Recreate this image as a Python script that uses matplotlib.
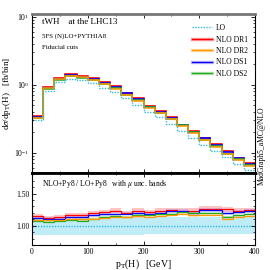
import numpy as np
import matplotlib
matplotlib.use('Agg')
import matplotlib.pyplot as plt
from matplotlib.ticker import MultipleLocator, LogLocator, NullFormatter

plt.rcParams['font.family'] = ['Liberation Serif', 'DejaVu Serif']
plt.rcParams['mathtext.fontset'] = 'stix'

# --- Data, 20 GeV bins
edges = np.arange(0, 420, 20)
lo = [0.30, 0.82, 1.10, 1.22, 1.17, 1.05, 0.91, 0.77, 0.63, 0.51,
      0.40, 0.33, 0.265, 0.21, 0.166, 0.13, 0.105, 0.085, 0.068, 0.056]
# ratios NLO / LO
r_dr1 = [1.15, 1.12, 1.13, 1.17, 1.16, 1.20, 1.215, 1.235, 1.20, 1.235,
         1.21, 1.235, 1.245, 1.235, 1.235, 1.265, 1.265, 1.255, 1.235, 1.245]
r_dr2 = [1.09, 1.085, 1.09, 1.105, 1.10, 1.11, 1.12, 1.135, 1.13, 1.145,
         1.14, 1.155, 1.17, 1.18, 1.16, 1.17, 1.17, 1.105, 1.14, 1.15]
r_ds1 = [1.12, 1.105, 1.11, 1.135, 1.13, 1.16, 1.18, 1.19, 1.19, 1.20,
         1.19, 1.20, 1.225, 1.225, 1.20, 1.25, 1.25, 1.20, 1.21, 1.225]
r_ds2 = [1.08, 1.06, 1.07, 1.09, 1.08, 1.105, 1.13, 1.145, 1.14, 1.16,
         1.16, 1.18, 1.19, 1.215, 1.20, 1.20, 1.20, 1.13, 1.17, 1.18]
# LO scale band (relative)
lo_dn = [0.85, 0.85, 0.85, 0.855, 0.855, 0.855, 0.86, 0.86, 0.86, 0.86,
         0.865, 0.865, 0.865, 0.865, 0.865, 0.87, 0.87, 0.87, 0.87, 0.87]
lo_up = [1.12, 1.12, 1.12, 1.125, 1.125, 1.125, 1.13, 1.13, 1.13, 1.13,
         1.135, 1.135, 1.135, 1.14, 1.14, 1.14, 1.14, 1.145, 1.145, 1.145]
# NLO scale unc. (relative half width)
unc = {'NLO DR1': 0.035, 'NLO DR2': 0.02, 'NLO DS1': 0.03, 'NLO DS2': 0.015}

lo = np.array(lo)
ratios = {'NLO DR1': np.array(r_dr1), 'NLO DR2': np.array(r_dr2),
          'NLO DS1': np.array(r_ds1), 'NLO DS2': np.array(r_ds2)}
colors = {'NLO DR1': '#ff0000', 'NLO DR2': '#ff9900',
          'NLO DS1': '#0000ff', 'NLO DS2': '#22aa22'}
bands = {'NLO DR1': '#ff8080', 'NLO DR2': '#ffcc80',
         'NLO DS1': '#b0a0ff', 'NLO DS2': '#a0dda0'}
lo_col = '#33bbdd'
lo_band = '#b8eaf7'

fig = plt.figure(figsize=(2.7, 2.7), dpi=100)
ax = fig.add_axes([0.1185, 0.359, 0.826, 0.589])
axr = fig.add_axes([0.1185, 0.0926, 0.826, 0.2664], sharex=ax)

def sfill(a, lo_, hi_, color, alpha):
    a.fill_between(edges, np.append(lo_, lo_[-1]), np.append(hi_, hi_[-1]),
                   step='post', color=color, alpha=alpha, lw=0)

# --- main panel
order = ['NLO DR1', 'NLO DS1', 'NLO DS2', 'NLO DR2']
for k in order:
    y = lo*ratios[k]
    sfill(ax, y*(1-unc[k]), y*(1+unc[k]), bands[k], 0.6)
for k in order:
    y = lo*ratios[k]
    ax.stairs(y, edges, baseline=None, color=colors[k], lw=1.1)
ax.stairs(lo, edges, baseline=None, color=lo_col, lw=1.0, ls=(0, (1, 1)))

ax.set_yscale('log')
ax.set_xlim(0, 400)
ax.set_ylim(0.05, 11)
ax.set_ylabel(r'd$\sigma$/dp$_\mathrm{T}$(H)   [fb/bin]', fontsize=6.5, labelpad=1)
ax.yaxis.set_major_locator(LogLocator(base=10, numticks=10))
ax.yaxis.set_minor_locator(LogLocator(base=10, subs=np.arange(2, 10), numticks=10))
ax.yaxis.set_minor_formatter(NullFormatter())
plt.setp(ax.get_xticklabels(), visible=False)
ax.spines['top'].set_linewidth(2.0)
ax.spines['top'].set_color('#777777')
ax.spines['bottom'].set_linewidth(2.0)

ax.text(0.045, 0.95, 'tWH    at the LHC13', transform=ax.transAxes, fontsize=6.5, va='center')
ax.text(0.045, 0.862, '5FS (N)LO+PYTHIA8', transform=ax.transAxes, fontsize=5, va='center')
ax.text(0.045, 0.79, 'Fiducial cuts', transform=ax.transAxes, fontsize=5, va='center')

# legend
h_lo, = ax.plot([], [], color=lo_col, lw=1.0, ls=(0, (1, 1)))
hs = [h_lo]
for k in ['NLO DR1', 'NLO DR2', 'NLO DS1', 'NLO DS2']:
    hb, = ax.plot([], [], color=bands[k], lw=2.4, alpha=0.8)
    hl, = ax.plot([], [], color=colors[k], lw=0.9)
    hs.append((hb, hl))
ax.legend(hs, ['LO', 'NLO DR1', 'NLO DR2', 'NLO DS1', 'NLO DS2'],
          loc='upper right', bbox_to_anchor=(1.0, 0.98), frameon=False,
          fontsize=5.5, handlelength=2.6, handletextpad=0.6, labelspacing=0.45)

# --- ratio panel
sfill(axr, np.array(lo_dn), np.array(lo_up), lo_band, 0.9)
for k in order:
    r = ratios[k]
    sfill(axr, r-unc[k], r+unc[k], bands[k], 0.45)
for k in order:
    axr.stairs(ratios[k], edges, baseline=None, color=colors[k], lw=0.9)
axr.stairs(np.ones(len(lo)), edges, baseline=None, color=lo_col, lw=1.0, ls=(0, (1, 1)))

axr.set_ylim(0.7, 1.82)
axr.yaxis.set_major_locator(MultipleLocator(0.5))
axr.yaxis.set_minor_locator(MultipleLocator(0.1))
axr.yaxis.set_major_formatter(matplotlib.ticker.FormatStrFormatter('%.2f'))
axr.xaxis.set_major_locator(MultipleLocator(100))
axr.xaxis.set_minor_locator(MultipleLocator(50))
axr.set_xlabel(r'p$_\mathrm{T}$(H)   [GeV]', fontsize=7, labelpad=1)
axr.spines['top'].set_linewidth(2.0)
axr.text(0.045, 0.847, r'NLO+Py8 / LO+Py8   with $\mu$ unc. bands', transform=axr.transAxes,
         fontsize=5.5, va='center')

for a in (ax, axr):
    a.tick_params(which='both', direction='in', top=True, right=True, labelsize=5.5, pad=2)
    a.tick_params(which='major', length=3, width=0.6)
    a.tick_params(which='minor', length=1.5, width=0.5)
    for s in ('left', 'right'):
        a.spines[s].set_linewidth(0.8)
axr.spines['bottom'].set_linewidth(0.8)

fig.text(0.970, 0.459, 'MadGraph5_aMC@NLO', rotation=90, fontsize=5.5, ha='center', va='center')

fig.savefig('out.png', dpi=100)
